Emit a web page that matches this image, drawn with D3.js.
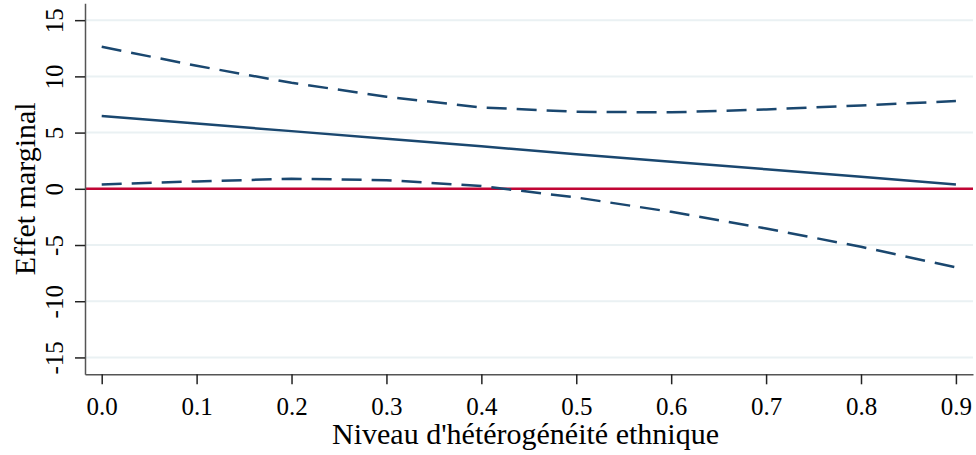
<!DOCTYPE html>
<html>
<head>
<meta charset="utf-8">
<script src="https://cdn.jsdelivr.net/npm/d3@7"></script>
<style>
  body { margin: 0; background: #fff; }
  svg { display: block; }
  svg text { font-family: 'Liberation Serif', 'Times New Roman', serif; }
</style>
</head>
<body>
<svg id="chart" width="976" height="455"></svg>
<script>
// heterogeneity levels (x) and marginal effect with 95% CI
const niveaux = [0.0, 0.1, 0.2, 0.3, 0.4, 0.5, 0.6, 0.7, 0.8, 0.9];
const effet   = [6.47, 5.80, 5.13, 4.46, 3.78, 3.08, 2.40, 1.74, 1.07, 0.39];
const ciHaut  = [12.63, 10.94, 9.43, 8.19, 7.24, 6.85, 6.80, 7.06, 7.42, 7.80];
const ciBas   = [0.39, 0.66, 0.89, 0.77, 0.24, -0.77, -2.05, -3.53, -5.16, -6.99];
const yTicks  = [-15, -10, -5, 0, 5, 10, 15];
const xTicks  = [0.0, 0.1, 0.2, 0.3, 0.4, 0.5, 0.6, 0.7, 0.8, 0.9];

const serif = "'Liberation Serif', 'Times New Roman', serif";
const svg = d3.select('#chart');
const margin = { top: 3.3, right: 3, bottom: 80.7, left: 85 };
const width = 976, height = 455;
const innerW = width - margin.left - margin.right;
const innerH = height - margin.top - margin.bottom;

const navy = '#1a476f';
const red = '#c10534';

const xScale = d3.scaleLinear()
    .domain([-0.0176, 0.918])
    .range([0, innerW]);
const yScale = d3.scaleLinear()
    .domain([-16.5, 16.5])
    .range([innerH, 0]);

const g = svg.append('g')
    .attr('transform', `translate(${margin.left},${margin.top})`);

// grid lines
g.append('g')
  .selectAll('line')
  .data(yTicks)
  .enter()
  .append('line')
    .attr('x1', 0)
    .attr('x2', innerW)
    .attr('y1', d => yScale(d))
    .attr('y2', d => yScale(d))
    .style('stroke', '#eaf1f3')
    .style('stroke-width', 2);

// reference line at zero
g.append('line')
    .attr('x1', 0)
    .attr('x2', innerW)
    .attr('y1', yScale(0))
    .attr('y2', yScale(0))
    .style('stroke', red)
    .style('stroke-width', 2.5);

const line = d3.line()
    .x(d => xScale(d[0]))
    .y(d => yScale(d[1]));

const series = [
    { vals: ciHaut, dash: '20,10' },
    { vals: ciBas, dash: '20,10' },
    { vals: effet, dash: null }
];
series.forEach(s => {
    g.append('path')
        .datum(niveaux.map((x, i) => [x, s.vals[i]]))
        .style('fill', 'none')
        .style('stroke', navy)
        .style('stroke-width', 2.5)
        .style('stroke-dasharray', s.dash)
        .attr('d', line);
});

// axes
const yAxis = g.append('g')
    .attr('class', 'axis')
    .call(d3.axisLeft(yScale).tickValues(yTicks).tickSize(10).tickSizeOuter(0).tickFormat(d => String(d)))
    .attr('font-family', serif)
    .attr('font-size', 25);
yAxis.selectAll('text')
    .attr('x', null).attr('dy', null)
    .attr('transform', 'translate(-22,0) rotate(-90)')
    .attr('text-anchor', 'middle')
    .attr('fill', '#000');

const xAxis = g.append('g')
    .attr('class', 'axis')
    .attr('transform', `translate(0,${innerH})`)
    .call(d3.axisBottom(xScale).tickValues(xTicks).tickSize(10).tickSizeOuter(0).tickFormat(d3.format('.1f')))
    .attr('font-family', serif)
    .attr('font-size', 25);
xAxis.selectAll('text')
    .attr('y', 40.7).attr('dy', null)
    .attr('fill', '#000');

[yAxis, xAxis].forEach(a => {
    a.select('.domain').style('stroke', '#555').style('stroke-width', 1.5);
    a.selectAll('.tick line').style('stroke', '#222').style('stroke-width', 1.5);
});

// axis titles
g.append('text')
    .attr('transform', `translate(${35 - margin.left},${innerH / 2}) rotate(-90)`)
    .attr('text-anchor', 'middle')
    .attr('font-size', 30)
    .text('Effet marginal');
g.append('text')
    .attr('x', 525.5 - margin.left)
    .attr('y', 444 - margin.top)
    .attr('text-anchor', 'middle')
    .attr('font-size', 30)
    .text("Niveau d'hétérogénéité ethnique");
</script>
</body>
</html>
